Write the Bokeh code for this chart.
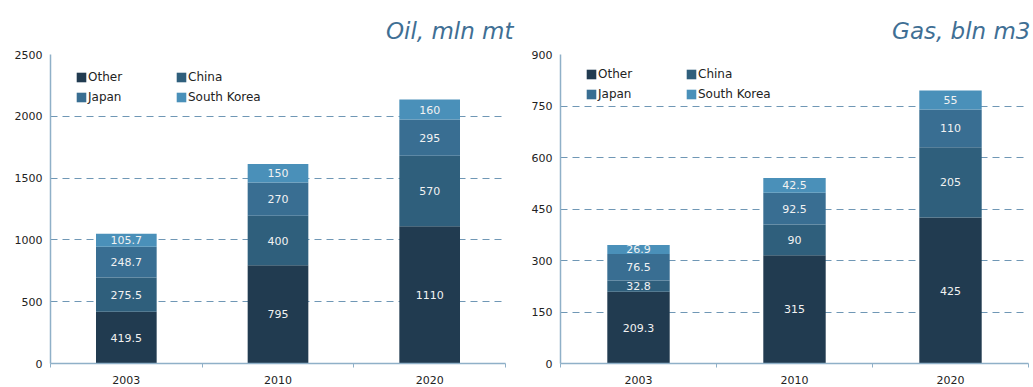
from bokeh.plotting import figure
from bokeh.layouts import row
from bokeh.models import Range1d, FixedTicker, ColumnDataSource, Legend, LegendItem
from bokeh.core.properties import value
from bokeh.embed import file_html
from bokeh.resources import INLINE
import numpy as np

years = ["2003", "2010", "2020"]
series = ["Other", "China", "Japan", "South Korea"]
colors = ["#213B50", "#2F5F7C", "#396E92", "#4A90B9"]

oil_other = [419.5, 795, 1110]
oil_china = [275.5, 400, 570]
oil_japan = [248.7, 270, 295]
oil_korea = [105.7, 150, 160]

gas_other = [209.3, 315, 425]
gas_china = [32.8, 90, 205]
gas_japan = [76.5, 92.5, 110]
gas_korea = [26.9, 42.5, 55]

oil_ticks = [0, 500, 1000, 1500, 2000, 2500]
gas_ticks = [0, 150, 300, 450, 600, 750, 900]

FONT = "DejaVu Sans"
AXIS_COLOR = "#8FB0C8"
GRID_COLOR = "#6F97B5"
TITLE_COLOR = "#3F6F94"


def make_chart(title, cols, yticks, width, bl, br, bt, bb, toff, leg_vy):
    xs = [i + 0.5 for i in range(len(years))]
    data = dict(x=xs)
    for s, c in zip(series, cols):
        data[s] = c
    src = ColumnDataSource(data)
    p = figure(width=width, height=387, x_range=Range1d(0, len(years)),
               y_range=Range1d(yticks[0], yticks[-1]),
               output_backend="svg", toolbar_location=None,
               min_border_left=bl, min_border_right=br,
               min_border_top=bt, min_border_bottom=bb)
    p.background_fill_color = "white"
    p.border_fill_color = "white"
    p.outline_line_color = None

    rs = p.vbar_stack(series, x="x", width=0.4, fill_color=colors,
                      line_color=None, source=src)

    arr = np.array(cols, dtype=float)
    cum = np.cumsum(arr, axis=0)
    mid = cum - arr / 2
    lab = ColumnDataSource(dict(
        x=np.tile(xs, len(series)), y=mid.ravel(),
        t=[f"{v:g}" for v in arr.ravel()]))
    p.text(x="x", y="y", text="t", source=lab, text_align="center",
           text_baseline="middle", text_color="#F2F2F2",
           text_font=value(FONT), text_font_size="11px")

    # x axis
    p.xaxis.ticker = FixedTicker(ticks=xs, minor_ticks=list(range(len(years) + 1)))
    p.xaxis.major_label_overrides = {x: y for x, y in zip(xs, years)}
    p.xaxis.major_tick_line_color = None
    p.xaxis.major_tick_out = 0
    p.xaxis.major_tick_in = 0
    p.xaxis.minor_tick_line_color = AXIS_COLOR
    p.xaxis.minor_tick_out = 4
    p.xaxis.minor_tick_in = 0
    p.xaxis.axis_line_color = AXIS_COLOR
    p.xaxis.axis_line_width = 1.5
    p.xaxis.major_label_standoff = 8
    p.xaxis.major_label_text_font = FONT
    p.xaxis.major_label_text_font_size = "11px"
    p.xaxis.major_label_text_color = "#222222"

    # y axis
    p.yaxis.ticker = FixedTicker(ticks=yticks)
    p.yaxis.major_tick_line_color = None
    p.yaxis.minor_tick_line_color = None
    p.yaxis.major_tick_out = 0
    p.yaxis.major_tick_in = 0
    p.yaxis.axis_line_color = AXIS_COLOR
    p.yaxis.axis_line_width = 1.5
    p.yaxis.major_label_standoff = 8
    p.yaxis.major_label_text_font = FONT
    p.yaxis.major_label_text_font_size = "11px"
    p.yaxis.major_label_text_color = "#222222"

    p.xgrid.visible = False
    p.ygrid.grid_line_color = GRID_COLOR
    p.ygrid.grid_line_dash = "7 5"
    p.ygrid.grid_line_width = 1

    p.title.text = title
    p.title.align = "right"
    p.title.text_font = FONT
    p.title.text_font_style = "italic"
    p.title.text_font_size = "23px"
    p.title.text_color = TITLE_COLOR
    p.title.text_line_height = 0.8
    p.title.offset = toff
    p.title.standoff = 21

    items = [LegendItem(label=s, renderers=[r]) for s, r in zip(series, rs)]
    leg = Legend(items=items, location=(25, leg_vy), orientation="horizontal",
                 ncols=2, glyph_width=12, glyph_height=12, label_standoff=1,
                 label_width=87, label_height=20, spacing=0, padding=0,
                 margin=0, border_line_color=None, background_fill_alpha=0,
                 label_text_font=FONT, label_text_font_size="12px",
                 label_text_color="#222222")
    p.add_layout(leg)
    return p


oil = make_chart("Oil, mln mt", [oil_other, oil_china, oil_japan, oil_korea],
                 oil_ticks, 515, 50, 10, 54, 24, -8, 256)
gas = make_chart("Gas, bln m3", [gas_other, gas_china, gas_japan, gas_korea],
                 gas_ticks, 518, 45, 5, 53, 21, -2, 259)

layout = row(oil, gas)
open("out.html", "w").write(file_html(layout, INLINE))
